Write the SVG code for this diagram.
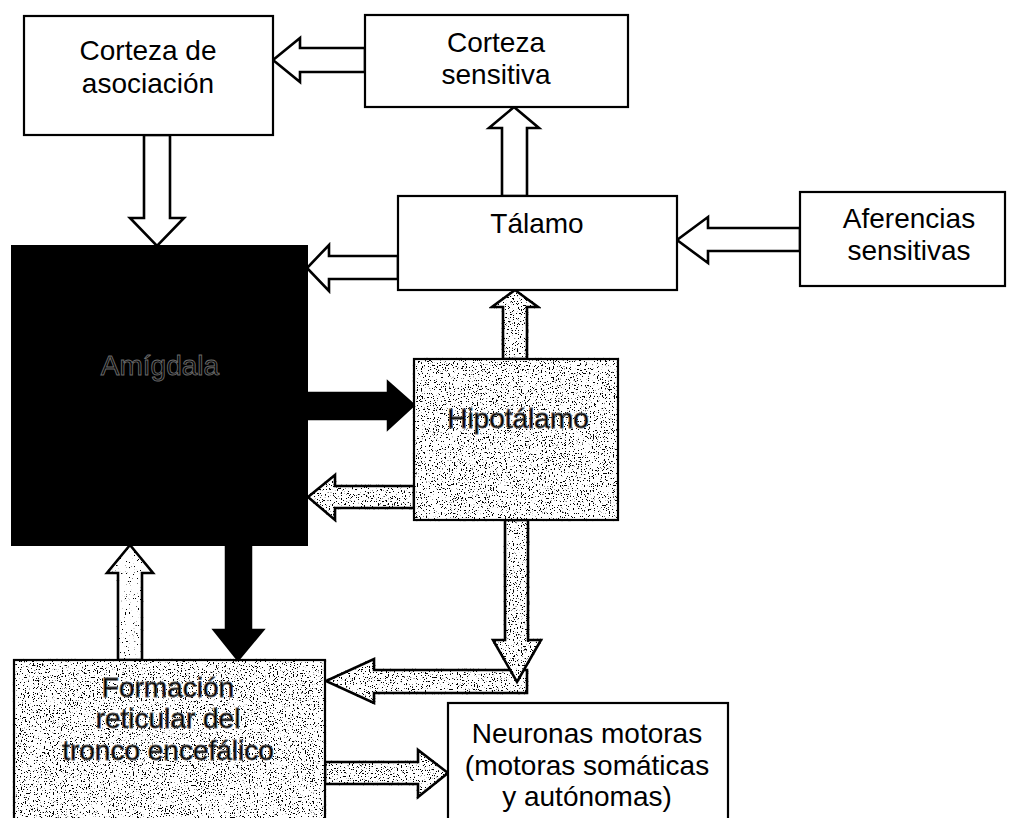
<svg xmlns="http://www.w3.org/2000/svg" width="1010" height="818" viewBox="0 0 1010 818">
<defs>
<style>
.box{fill:#fff;stroke:#000;stroke-width:2.2}
.stip{fill:#fff;stroke:#000;stroke-width:2.2;filter:url(#speckle)}
.lt{font-family:"Liberation Sans",Arial,sans-serif;font-size:28px;fill:#000;text-anchor:middle}
.gt{font-family:"Liberation Sans",Arial,sans-serif;font-size:28px;fill:#000;stroke:#555;stroke-width:0.8;text-anchor:middle}
.at{font-family:"Liberation Sans",Arial,sans-serif;font-size:28px;fill:#050505;stroke:#6a6a6a;stroke-width:0.9;text-anchor:middle}
.wa{fill:#fff;stroke:#000;stroke-width:2.6;stroke-linejoin:miter}
.sa{fill:#fff;stroke:#000;stroke-width:2.6;stroke-linejoin:miter;filter:url(#speckle)}
.la{fill:#fff;stroke:#000;stroke-width:2.6;stroke-linejoin:miter;filter:url(#speckleLight)}
.ba{fill:#000;stroke:#000;stroke-width:2.5}
</style>
<filter id="speckle" x="-5%" y="-5%" width="110%" height="110%">
<feTurbulence type="fractalNoise" baseFrequency="0.75" numOctaves="2" seed="4" result="n"/>
<feColorMatrix in="n" type="matrix" values="0 0 0 0 0  0 0 0 0 0  0 0 0 0 0  22 0 0 0 -13.5" result="dots"/>
<feComposite in="dots" in2="SourceAlpha" operator="in" result="dc"/>
<feMerge><feMergeNode in="SourceGraphic"/><feMergeNode in="dc"/></feMerge>
</filter>
<filter id="speckleLight" x="-5%" y="-5%" width="110%" height="110%">
<feTurbulence type="fractalNoise" baseFrequency="0.75" numOctaves="2" seed="9" result="n"/>
<feColorMatrix in="n" type="matrix" values="0 0 0 0 0  0 0 0 0 0  0 0 0 0 0  22 0 0 0 -15" result="dots"/>
<feComposite in="dots" in2="SourceAlpha" operator="in" result="dc"/>
<feMerge><feMergeNode in="SourceGraphic"/><feMergeNode in="dc"/></feMerge>
</filter>
</defs>
<rect width="1010" height="818" fill="#fff"/>

<g id="connectors">
<polygon class="wa" points="365,48 300,48 300,38 273,60 300,82 300,72 365,72"/>
<polygon class="wa" points="144,135 170,135 170,218 184,218 157,246 130,218 144,218"/>
<polygon class="wa" points="502,196 502,128 489,128 514,107 539,128 527,128 527,196"/>
<polygon class="wa" points="800,228 708,228 708,217 677,240 708,263 708,251 800,251"/>
<polygon class="wa" points="398,256 329,256 329,245 307,268 329,291 329,279 398,279"/>
<polygon class="sa" points="503,359 503,307 492,307 515,290 538,307 527,307 527,359"/>
<polygon class="ba" points="307,393 388,393 388,382 414,405 388,429 388,419 307,419"/>
<polygon class="sa" points="414,486 335,486 335,475 308,497 335,520 335,508 414,508"/>
<polygon class="sa" points="527,670 374,670 374,659 326,681 374,703 374,693 527,693"/>
<polygon class="sa" points="505,520 528,520 528,640 541,640 517,682 493,640 505,640"/>
<polygon class="la" points="118,660 118,573 107,573 130,545 153,573 142,573 142,660"/>
<polygon class="ba" points="226,545 251,545 251,630 263,630 238,660 214,630 226,630"/>
<polygon class="sa" points="325,762 418,762 418,750 448,773 418,797 418,784 325,784"/>
</g>

<g id="corteza-asociacion">
<rect class="box" x="24" y="16" width="249" height="119"/>
<text class="lt" x="148" y="60">Corteza de</text>
<text class="lt" x="148" y="93">asociación</text>
</g>

<g id="corteza-sensitiva">
<rect class="box" x="365" y="15" width="263" height="92"/>
<text class="lt" x="496" y="52">Corteza</text>
<text class="lt" x="496" y="84">sensitiva</text>
</g>

<g id="talamo">
<rect class="box" x="398" y="196" width="279" height="94"/>
<text class="lt" x="537" y="233">Tálamo</text>
</g>

<g id="aferencias">
<rect class="box" x="800" y="192" width="205" height="94"/>
<text class="lt" x="909" y="228">Aferencias</text>
<text class="lt" x="909" y="260">sensitivas</text>
</g>

<g id="amigdala">
<rect x="12" y="246" width="295" height="299" fill="#000" stroke="#000" stroke-width="2"/>
<text class="at" x="160" y="375">Amígdala</text>
</g>

<g id="hipotalamo">
<rect class="stip" x="414" y="359" width="204" height="161"/>
<text class="gt" x="518" y="428">Hipotálamo</text>
</g>

<g id="formacion-reticular">
<rect class="stip" x="14" y="660" width="311" height="170"/>
<text class="gt" x="168" y="697">Formación</text>
<text class="gt" x="168" y="728">reticular del</text>
<text class="gt" x="168" y="760">tronco encefálico</text>
</g>

<g id="neuronas-motoras">
<rect class="box" x="448" y="703" width="280" height="127"/>
<text class="lt" x="587" y="743">Neuronas motoras</text>
<text class="lt" x="587" y="775">(motoras somáticas</text>
<text class="lt" x="587" y="806">y autónomas)</text>
</g>
</svg>
